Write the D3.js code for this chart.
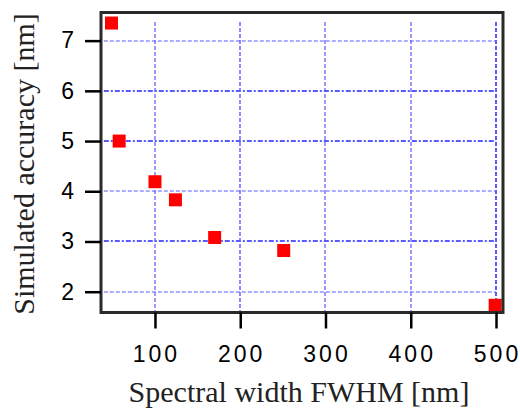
<!DOCTYPE html>
<html>
<head>
<meta charset="utf-8">
<script src="https://cdn.jsdelivr.net/npm/d3@7"></script>
<style>
  html, body { margin: 0; padding: 0; background: #fff; }
  svg { display: block; }
</style>
</head>
<body>
<svg id="chart" width="520" height="414"></svg>
<script>
// Spectral width (FWHM, nm) versus simulated accuracy (nm)
const fwhm     = [49, 58, 100, 124, 170, 251, 499];
const accuracy = [7.35, 5.0, 4.19, 3.83, 3.08, 2.82, 1.73];

const xTicks = [100, 200, 300, 400, 500];
const yTicks = [2, 3, 4, 5, 6, 7];
// heavier grid lines
const xMajor = [200, 500];
const yMajor = [3, 5, 6];

const xTitle = "Spectral width FWHM [nm]";
const yTitle = "Simulated accuracy [nm]";

const svg = d3.select("#chart");
const box = { left: 101, top: 12.5, right: 503, bottom: 312.5 };

const x = d3.scaleLinear().domain([36.7, 508.2]).range([box.left, box.right]);
const y = d3.scaleLinear().domain([1.586, 7.56]).range([box.bottom, box.top]);

const gridBlue = "#5a5aff";
const gridTop = y(7.37);
const gridLeft = x(40);
const gridRight = x(500);

// grid
const grid = svg.append("g").attr("class", "grid");
const hWidth = d => yMajor.includes(d) ? 2 : 1.2;
const vWidth = d => d === 500 ? 2 : (xMajor.includes(d) ? 1.4 : 1.2);
grid.selectAll("line.h").data(yTicks).join("line")
  .attr("class", "h")
  .attr("x1", gridLeft).attr("x2", gridRight)
  .attr("y1", d => Math.round(y(d))).attr("y2", d => Math.round(y(d)))
  .attr("stroke", gridBlue)
  .attr("stroke-width", hWidth)
  .attr("stroke-dasharray", d => yMajor.includes(d) ? "5,2,2,2" : "4,2");
grid.selectAll("line.v").data(xTicks).join("line")
  .attr("class", "v")
  .attr("y1", gridTop).attr("y2", box.bottom)
  .attr("x1", d => Math.round(x(d))).attr("x2", d => Math.round(x(d)))
  .attr("stroke", gridBlue)
  .attr("stroke-width", vWidth)
  .attr("stroke-dasharray", "4,2");

// data points
const sq = 13;
svg.append("g").selectAll("rect").data(fwhm.map((f, i) => [f, accuracy[i]])).join("rect")
  .attr("x", d => x(d[0]) - sq / 2)
  .attr("y", d => y(d[1]) - sq / 2)
  .attr("width", sq).attr("height", sq)
  .attr("fill", "#ff0000");

// frame
svg.append("rect")
  .attr("x", box.left).attr("y", box.top)
  .attr("width", box.right - box.left).attr("height", box.bottom - box.top)
  .attr("fill", "none").attr("stroke", "#2a2a2a").attr("stroke-width", 3);

// axes
const tickFont = "'Liberation Sans', Arial, sans-serif";
const xAxis = svg.append("g")
  .attr("transform", `translate(0,${box.bottom})`)
  .call(d3.axisBottom(x).tickValues(xTicks).tickFormat(d3.format("d"))
    .tickSizeInner(16).tickSizeOuter(0).tickPadding(17));
const yAxis = svg.append("g")
  .attr("transform", `translate(${box.left},0)`)
  .call(d3.axisLeft(y).tickValues(yTicks).tickFormat(d3.format("d"))
    .tickSizeInner(16).tickSizeOuter(0).tickPadding(11));

[xAxis, yAxis].forEach(g => {
  g.select(".domain").remove();
  g.selectAll(".tick line").attr("stroke", "#000").attr("stroke-width", 2.5);
  g.selectAll(".tick text")
    .attr("fill", "#000")
    .style("font-family", tickFont)
    .style("font-size", "23px");
});
xAxis.selectAll(".tick text")
  .style("letter-spacing", "3px")
  .attr("dx", "1px");

// axis titles
const titleFont = "'Liberation Serif', 'Times New Roman', serif";
svg.append("text")
  .attr("x", 299).attr("y", 401.5)
  .attr("text-anchor", "middle")
  .style("font-family", titleFont).style("font-size", "30px")
  .attr("fill", "#222")
  .text(xTitle);
svg.append("text")
  .attr("transform", "translate(34,164) rotate(-90)")
  .attr("text-anchor", "middle")
  .style("font-family", titleFont).style("font-size", "30px")
  .attr("fill", "#222")
  .text(yTitle);
</script>
</body>
</html>
